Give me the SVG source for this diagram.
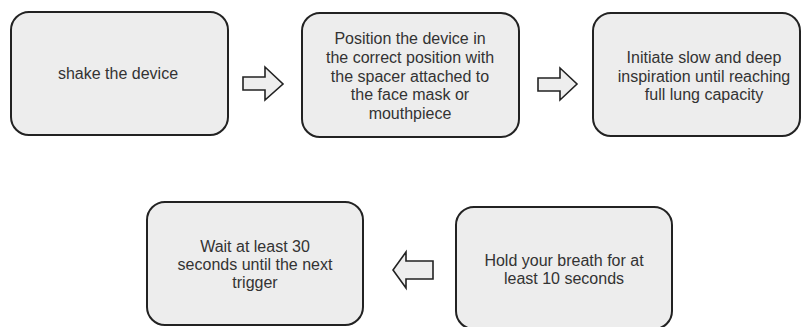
<svg xmlns="http://www.w3.org/2000/svg" width="802" height="327" viewBox="0 0 802 327">
<style>
.box{fill:#ededed;stroke:#222;stroke-width:2}
.arr{fill:#eeeeee;stroke:#222;stroke-width:1.6;stroke-linejoin:miter}
text{font-family:"Liberation Sans",Arial,sans-serif;font-size:16px;fill:#333;text-anchor:middle}
</style>
<rect width="802" height="327" fill="#ffffff"/>
<g id="n1">
<rect class="box" x="11" y="12" width="217" height="123" rx="18"/>
<text x="118" y="79">shake the device</text>
</g>
<g id="n2">
<rect class="box" x="302" y="13" width="217" height="124" rx="18"/>
<text x="410" y="44">Position the device in</text>
<text x="410" y="63">the correct position with</text>
<text x="410" y="82">the spacer attached to</text>
<text x="410" y="100">the face mask or</text>
<text x="410" y="119">mouthpiece</text>
</g>
<g id="n3">
<rect class="box" x="593" y="13" width="207" height="123" rx="18"/>
<text x="704" y="63">Initiate slow and deep</text>
<text x="704" y="82">inspiration until reaching</text>
<text x="704" y="100">full lung capacity</text>
</g>
<g id="n4">
<rect class="box" x="456" y="207" width="216" height="122" rx="18"/>
<text x="564" y="266">Hold your breath for at</text>
<text x="564" y="284">least 10 seconds</text>
</g>
<g id="n5">
<rect class="box" x="147" y="202" width="216" height="123" rx="18"/>
<text x="255" y="252">Wait at least 30</text>
<text x="255" y="270">seconds until the next</text>
<text x="255" y="288">trigger</text>
</g>
<g id="connectors">
<polygon class="arr" points="243,77 265,77 265,67 283,84 265,100 265,90 243,90"/>
<polygon class="arr" points="538,78 560,78 560,68 577,84 560,100 560,91 538,91"/>
<polygon class="arr" points="433,261 406,261 406,252 393,270 406,288 406,279 433,279"/>
</g>
</svg>
